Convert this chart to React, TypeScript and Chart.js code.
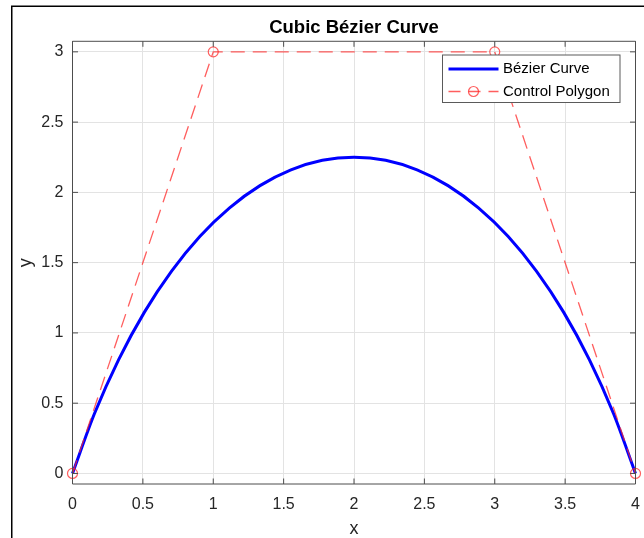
import React, { useEffect, useRef } from "react";
import { Chart, registerables } from "chart.js";

Chart.register(...registerables);

// Bézier curve samples (x, y)
const curveX = [0, 0.157, 0.328, 0.511, 0.704, 0.906, 1.116, 1.332, 1.552, 1.775, 2, 2.225, 2.448, 2.668, 2.884, 3.094, 3.296, 3.489, 3.672, 3.843, 4];
const curveY = [0, 0.428, 0.81, 1.148, 1.44, 1.688, 1.89, 2.048, 2.16, 2.228, 2.25, 2.228, 2.16, 2.048, 1.89, 1.688, 1.44, 1.148, 0.81, 0.428, 0];

// Control polygon points
const ctrlX = [0, 1, 3, 4];
const ctrlY = [0, 3, 3, 0];

// Tick values
const xTicks = [0, 0.5, 1, 1.5, 2, 2.5, 3, 3.5, 4];
const yTicks = [0, 0.5, 1, 1.5, 2, 2.5, 3];

const seriesLabels = ["Bézier Curve", "Control Polygon"];
const titleText = "Cubic Bézier Curve";

const FONT = "'Liberation Sans', Arial, Helvetica, sans-serif";
const AXIS_COLOR = "#4d4d4d";
const TEXT_COLOR = "#262626";
const RED = "rgba(255, 40, 40, 0.75)";

const framePlugin = {
  id: "frame",
  beforeDraw(chart: any) {
    const { ctx, width, height } = chart;
    ctx.save();
    ctx.fillStyle = "#ffffff";
    ctx.fillRect(0, 0, width, height);
    ctx.strokeStyle = "#000000";
    ctx.lineWidth = 1.5;
    ctx.beginPath();
    ctx.moveTo(11.75, height + 2);
    ctx.lineTo(11.75, 6.25);
    ctx.lineTo(width + 2, 6.25);
    ctx.stroke();
    ctx.restore();
  },
};

const boxPlugin = {
  id: "axesBox",
  afterDatasetsDraw(chart: any) {
    const { ctx, chartArea } = chart;
    const { left, right, top, bottom } = chartArea;
    const xs = chart.scales.x;
    const ys = chart.scales.y;
    const tl = 5.5;
    ctx.save();
    ctx.strokeStyle = AXIS_COLOR;
    ctx.lineWidth = 1;
    ctx.beginPath();
    ctx.rect(left, top, right - left, bottom - top);
    xTicks.forEach((v) => {
      const px = xs.getPixelForValue(v);
      ctx.moveTo(px, bottom);
      ctx.lineTo(px, bottom - tl);
      ctx.moveTo(px, top);
      ctx.lineTo(px, top + tl);
    });
    yTicks.forEach((v) => {
      const py = ys.getPixelForValue(v);
      ctx.moveTo(left, py);
      ctx.lineTo(left + tl, py);
      ctx.moveTo(right, py);
      ctx.lineTo(right - tl, py);
    });
    ctx.stroke();
    ctx.restore();
  },
};

const legendPlugin = {
  id: "boxLegend",
  afterDraw(chart: any) {
    const { ctx, chartArea } = chart;
    const ds = chart.data.datasets;
    const bx = chartArea.right - 15.5;
    const bxL = bx - 177.5;
    const by = chartArea.top + 13.7;
    const bh = 47.5;
    ctx.save();
    ctx.fillStyle = "#ffffff";
    ctx.fillRect(bxL, by, bx - bxL, bh);
    ctx.strokeStyle = "#5a5a5a";
    ctx.lineWidth = 1;
    ctx.strokeRect(bxL, by, bx - bxL, bh);
    const rows = [by + 14, by + 36.5];
    const sx0 = bxL + 6;
    const sx1 = bxL + 56;
    ctx.strokeStyle = ds[0].borderColor;
    ctx.lineWidth = ds[0].borderWidth;
    ctx.beginPath();
    ctx.moveTo(sx0, rows[0]);
    ctx.lineTo(sx1, rows[0]);
    ctx.stroke();
    ctx.strokeStyle = ds[1].borderColor;
    ctx.lineWidth = ds[1].borderWidth;
    ctx.setLineDash([12, 8]);
    ctx.beginPath();
    ctx.moveTo(sx0, rows[1]);
    ctx.lineTo(sx1, rows[1]);
    ctx.stroke();
    ctx.setLineDash([]);
    ctx.lineWidth = ds[1].pointBorderWidth;
    ctx.beginPath();
    ctx.arc((sx0 + sx1) / 2, rows[1], ds[1].pointRadius, 0, Math.PI * 2);
    ctx.stroke();
    ctx.fillStyle = "#000000";
    ctx.font = `15px ${FONT}`;
    ctx.textBaseline = "middle";
    ctx.textAlign = "left";
    ctx.fillText(ds[0].label, sx1 + 4.5, rows[0]);
    ctx.fillText(ds[1].label, sx1 + 4.5, rows[1]);
    ctx.restore();
  },
};

export default function App() {
  const ref = useRef<HTMLCanvasElement | null>(null);

  useEffect(() => {
    if (!ref.current) return;
    const chart = new Chart(ref.current, {
      type: "line",
      data: {
        datasets: [
          {
            label: seriesLabels[0],
            data: curveX.map((x, i) => ({ x, y: curveY[i] })),
            borderColor: "#0000ff",
            borderWidth: 3,
            pointRadius: 0,
            cubicInterpolationMode: "monotone",
            fill: false,
            order: 1,
            clip: 6,
          } as any,
          {
            label: seriesLabels[1],
            data: ctrlX.map((x, i) => ({ x, y: ctrlY[i] })),
            borderColor: RED,
            borderWidth: 1.3,
            borderDash: [14, 8],
            pointRadius: 5,
            pointBorderWidth: 1.2,
            pointBorderColor: RED,
            pointBackgroundColor: "rgba(0,0,0,0)",
            pointStyle: "circle",
            tension: 0,
            fill: false,
            order: 0,
            clip: false,
          } as any,
        ],
      },
      options: {
        responsive: false,
        animation: false,
        devicePixelRatio: 1,
        layout: { padding: { left: 0, right: 8.5, top: 0, bottom: 0 } },
        plugins: {
          legend: { display: false },
          tooltip: { enabled: false },
          title: {
            display: true,
            fullSize: false,
            text: titleText,
            color: "#000000",
            font: { family: FONT, size: 18.5, weight: "bold" },
            padding: { top: 16.4, bottom: 2.7 },
          },
        },
        scales: {
          x: {
            type: "linear",
            min: 0,
            max: 4,
            afterBuildTicks: (s: any) => {
              s.ticks = xTicks.map((v) => ({ value: v }));
            },
            afterFit: (s: any) => {
              s.height = 54;
              s.paddingLeft = 0;
              s.paddingRight = 0;
            },
            ticks: {
              callback: (v: any) => String(v),
              color: TEXT_COLOR,
              font: { family: FONT, size: 16 },
              padding: 11,
              maxRotation: 0,
              autoSkip: false,
            },
            grid: { color: "#e3e3e3", lineWidth: 1, drawTicks: false },
            border: { display: false },
            title: {
              display: true,
              text: "x",
              color: TEXT_COLOR,
              font: { family: FONT, size: 18 },
              padding: { top: 0, bottom: -1.5 },
            },
          },
          y: {
            type: "linear",
            min: -0.075,
            max: 3.075,
            afterBuildTicks: (s: any) => {
              s.ticks = yTicks.map((v) => ({ value: v }));
            },
            afterFit: (s: any) => {
              s.width = 72.5;
              s.paddingTop = 0;
              s.paddingBottom = 0;
            },
            ticks: {
              callback: (v: any) => String(v),
              color: TEXT_COLOR,
              font: { family: FONT, size: 16 },
              padding: 9,
              autoSkip: false,
            },
            grid: { color: "#e3e3e3", lineWidth: 1, drawTicks: false },
            border: { display: false },
            title: {
              display: true,
              text: "y",
              color: TEXT_COLOR,
              font: { family: FONT, size: 18 },
              padding: { top: 15, bottom: 0 },
            },
          },
        },
      },
      plugins: [framePlugin, boxPlugin, legendPlugin],
    });
    return () => chart.destroy();
  }, []);

  return (
    <div style={{ position: "fixed", left: 0, top: 0, width: 644, height: 538 }}>
      <canvas ref={ref} width={644} height={538} style={{ display: "block" }} />
    </div>
  );
}
